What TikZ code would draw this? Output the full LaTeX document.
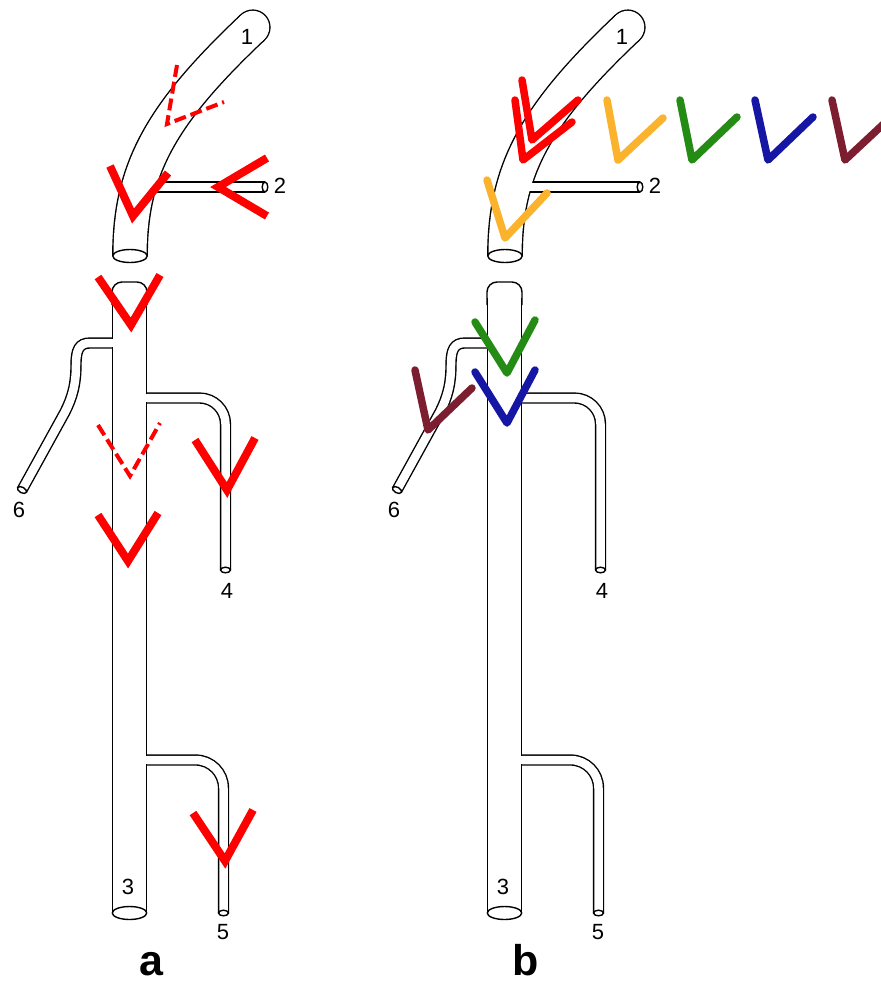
\documentclass[tikz,border=0pt]{standalone}
\usepackage{fontspec}
\setmainfont{Liberation Sans}
\definecolor{vorange}{RGB}{251,178,45}
\definecolor{vgreen}{RGB}{36,140,20}
\definecolor{vblue}{RGB}{22,22,165}
\definecolor{vmaroon}{RGB}{125,30,48}
\begin{document}
\begin{tikzpicture}[x=1pt, y=-1pt,
    tube/.style={line width=1.4pt, double=white, double distance=33pt},
    thin/.style={line width=1.4pt, double=white, double distance=8.5pt},
    thinbore/.style={white, line width=8.5pt},
    rim/.style={line width=1.4pt, fill=white},
    num/.style={font=\fontsize{22}{22}\selectfont},
    panel/.style={font=\fontsize{43}{43}\selectfont\bfseries, anchor=base, inner sep=0pt},
    redv/.style={red, line width=8pt},
    dashv/.style={red, line width=4pt, dash pattern=on 12pt off 5pt},
    colv/.style={line width=7.5pt, line cap=round, line join=round}]
\clip (0,0) rectangle (881,986);
\fill[white] (0,0) rectangle (881,986);
\foreach \dx/\p in {0/a,375/b} {
  \begin{scope}[xshift=\dx]
    % tube 1 with side tube 2
    \draw[tube, line cap=round] (252,28) -- ++(0.73,-0.69);
    \draw[thin] (137,187) -- (265,187);
    \draw[tube] (252,28) .. controls (160,115) and (130,170) .. (130,256);
    \fill[white] (252,28) circle [radius=16.4];
    \draw[thinbore] (137,187) -- (175,187);
    \draw[rim] (130,256) ellipse [x radius=17.2, y radius=6.5];
    \draw[rim] (265,187) ellipse [x radius=2.8, y radius=4.95];
    % tube 3 with branches 6, 4 and 5
    \draw[rim, rounded corners=10pt] (112,305) -- (112,282) -- (147,282) -- (147,305);
    \draw[thin] (129.5,343) -- (90,343) .. controls (79,343) and (76,350) .. (76,365)
      .. controls (76,385) and (72,398) .. (65,412) -- (22,490);
    \draw[thin, rounded corners=26pt] (129.5,398) -- (225.5,398) -- (225.5,570);
    \draw[thin, rounded corners=28pt] (129.5,760) -- (223.5,760) -- (223.5,913);
    \draw[tube] (129.5,298) -- (129.5,913);
    \draw[thinbore] (129.5,343) -- (100,343);
    \draw[thinbore] (129.5,398) -- (160,398);
    \draw[thinbore] (129.5,760) -- (160,760);
    \draw[rim] (129.5,913) ellipse [x radius=17.2, y radius=6.5];
    \draw[rim] (225.5,570) ellipse [x radius=4.95, y radius=2.8];
    \draw[rim] (223.5,913) ellipse [x radius=4.95, y radius=2.8];
    \draw[rim, rotate around={-29:(22,490)}] (22,490) ellipse [x radius=4.95, y radius=2.8];
    % numbers
    \node[num] (one\p) at (247,37) {1};
    \node[num] (two\p) at (280,186) {2};
    \node[num] (three\p) at (128,887) {3};
    \node[num] (four\p) at (227,591) {4};
    \node[num] (five\p) at (223,932) {5};
    \node[num] (six\p) at (19,510) {6};
    \node[panel] (tag\p) at (151,975) {\p};
  \end{scope}
}
% red marks, left
\draw[dashv] (177,65) -- (167,124) -- (224,102);
\draw[redv] (110,166) -- (133,216) -- (168,173);
\draw[redv] (267,158) -- (218,187) -- (267,216);
\draw[redv] (98,277) -- (131,325) -- (160,275);
\draw[dashv] (98,425) -- (130,476) -- (160,423);
\draw[redv] (195,440) -- (227,490) -- (255,438);
\draw[redv] (98,515) -- (128,561) -- (158,513);
\draw[redv] (193,813) -- (225,861) -- (253,810);
% coloured marks, right
\draw[colv, red] (522,80) -- (532,140) -- (578,100);
\draw[colv, red] (515,100) -- (523,160) -- (572,122);
\draw[colv, vorange] (607,100) -- (618,160) -- (663,118);
\draw[colv, vgreen] (680,100) -- (692,160) -- (737,117);
\draw[colv, vblue] (755,100) -- (768,160) -- (813,117);
\draw[colv, vmaroon] (832,100) -- (845,160) -- (890,118);
\draw[colv, vorange] (487,180) -- (505,238) -- (547,193);
\draw[colv, vgreen] (475,322) -- (507,373) -- (535,320);
\draw[colv, vblue] (475,372) -- (507,423) -- (535,370);
\draw[colv, vmaroon] (415,370) -- (428,430) -- (472,388);
\end{tikzpicture}
\end{document}
